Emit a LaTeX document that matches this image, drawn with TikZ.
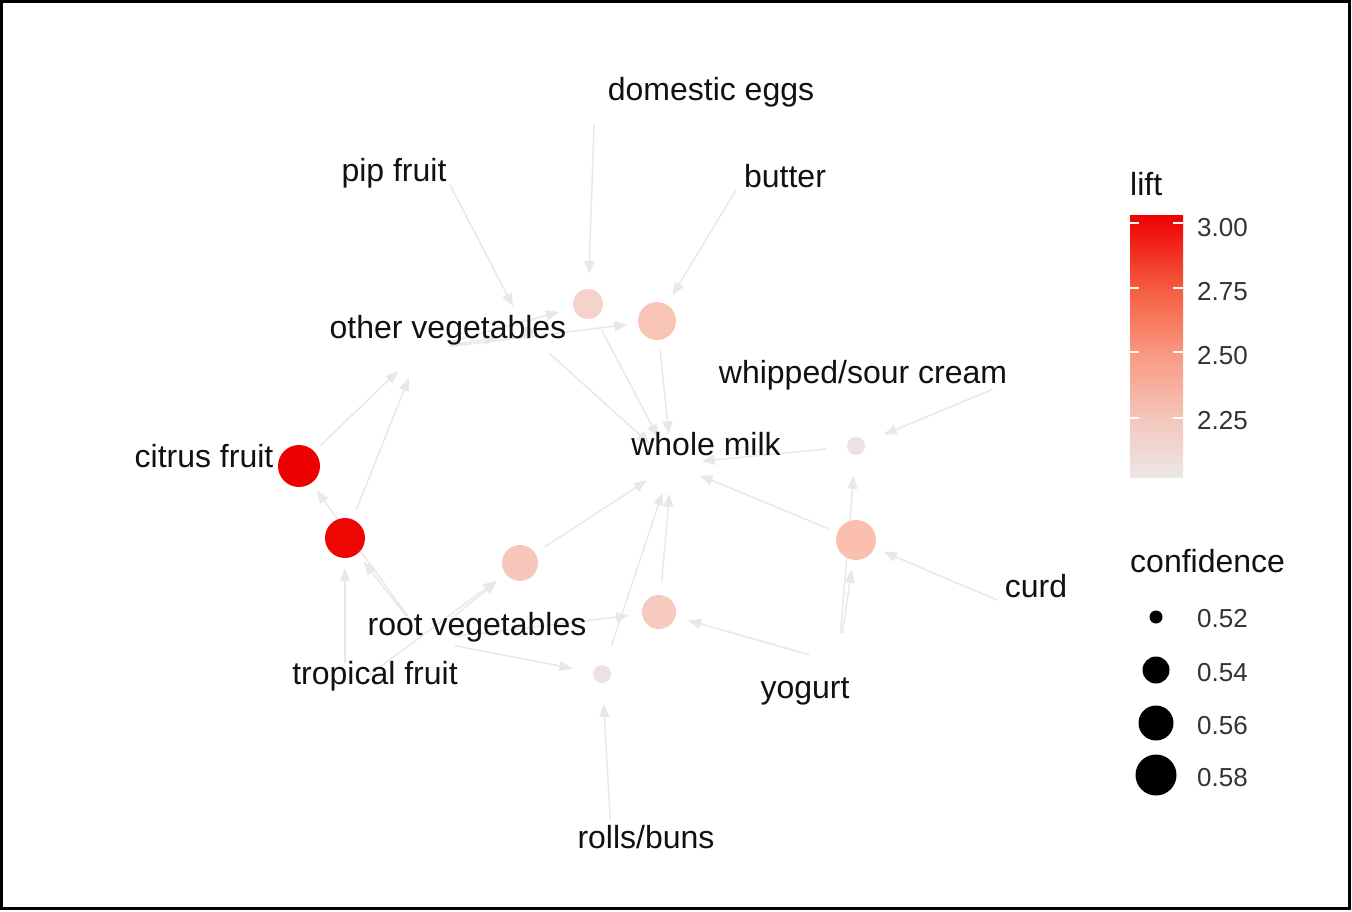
\documentclass[tikz,border=0pt]{standalone}
\usepackage{fontspec}
\setmainfont{Liberation Sans}
\usetikzlibrary{arrows.meta}
\pgfdeclarelayer{bg}
\pgfsetlayers{bg,main}
\definecolor{edgec}{HTML}{E8E8E8}
\definecolor{liftA}{HTML}{EE0000}
\definecolor{liftB}{HTML}{EE0600}
\definecolor{liftC}{HTML}{FBBFB0}
\definecolor{liftD}{HTML}{F9C3B6}
\definecolor{liftE}{HTML}{F8C7BB}
\definecolor{liftF}{HTML}{F7CABF}
\definecolor{liftG}{HTML}{F3D3CB}
\definecolor{liftH}{HTML}{EBE3E2}
\definecolor{liftI}{HTML}{ECE6E5}
\definecolor{gs1}{HTML}{EE0000}
\definecolor{gs2}{HTML}{F55C3F}
\definecolor{gs3}{HTML}{F99880}
\definecolor{gs4}{HTML}{F4C6BB}
\definecolor{gs5}{HTML}{EBE7E7}
\definecolor{legtext}{HTML}{333333}
\definecolor{labtext}{HTML}{111111}
\begin{document}
\begin{tikzpicture}[x=1pt,y=-1pt,
  lbl/.style={font=\fontsize{32}{38}\selectfont, text=labtext, inner sep=0pt, anchor=base},
  rulept/.style={circle, inner sep=0pt, minimum size=#1, draw=none},
  edgeln/.style={draw=edgec, line width=1.5pt, -{Triangle[length=13pt,width=10pt]}, shorten <=30pt, shorten >=30pt},
  legtitle/.style={font=\fontsize{32}{38}\selectfont, text=labtext, inner sep=0pt, anchor=base west},
  legtxt/.style={font=\fontsize{26}{30}\selectfont, text=legtext, inner sep=0pt, anchor=base west},
  sizedot/.style={circle, fill=black, inner sep=0pt, minimum size=#1},
  tickw/.style={draw=white, line width=1.5pt}]
\useasboundingbox (0,0) rectangle (1352,911);

% item vertices (invisible)
\coordinate (wm) at (672,464);
\coordinate (ov) at (420,350);
\coordinate (rv) at (425,640);
\coordinate (tf) at (345,693);
\coordinate (rb) at (612,850);
\coordinate (yo) at (838,663);
\coordinate (cu) at (1025,612);
\coordinate (ws) at (1020,378);
\coordinate (bu) at (751,165);
\coordinate (de) at (595,95);
\coordinate (pf) at (436,158);

% rule vertices
\node[rulept=30pt, fill=liftG] (r1) at (588,304) {};
\node[rulept=38pt, fill=liftD] (r2) at (657,321) {};
\node[rulept=42pt, fill=liftA] (r3) at (299,466) {};
\node[rulept=40pt, fill=liftB] (r4) at (345,538) {};
\node[rulept=36pt, fill=liftE] (r5) at (520,563) {};
\node[rulept=18pt, fill=liftH] (r6) at (856,446) {};
\node[rulept=40pt, fill=liftC] (r7) at (856,540) {};
\node[rulept=34pt, fill=liftF] (r8) at (659,612) {};
\node[rulept=18pt, fill=liftH] (r9) at (602,674) {};
\node[rulept=12pt, fill=liftI] (r10) at (527,333) {};

\begin{pgfonlayer}{bg}
\fill[white] (0,0) rectangle (1352,911);
\draw[edgeln] (de) -- (r1.center);
\draw[edgeln] (ov) -- (r1.center);
\draw[edgeln] (r1.center) -- (wm);
\draw[edgeln] (bu) -- (r2.center);
\draw[edgeln] (ov) -- (r2.center);
\draw[edgeln] (r2.center) -- (wm);
\draw[edgeln] (pf) -- (r10.center);
\draw[edgeln] (ov) -- (r10.center);
\draw[edgeln] (r10.center) -- (wm);
\draw[edgeln] (r3.center) -- (ov);
\draw[edgeln] (rv) -- (r3.center);
\draw[edgeln] (r4.center) -- (ov);
\draw[edgeln] (rv) -- (r4.center);
\draw[edgeln] (tf) -- (r4.center);
\draw[edgeln] (tf) -- (r5.center);
\draw[edgeln] (rv) -- (r5.center);
\draw[edgeln] (r5.center) -- (wm);
\draw[edgeln] (rv) -- (r8.center);
\draw[edgeln] (yo) -- (r8.center);
\draw[edgeln] (r8.center) -- (wm);
\draw[edgeln] (rv) -- (r9.center);
\draw[edgeln] (rb) -- (r9.center);
\draw[edgeln] (r9.center) -- (wm);
\draw[edgeln] (yo) -- (r7.center);
\draw[edgeln] (cu) -- (r7.center);
\draw[edgeln] (r7.center) -- (wm);
\draw[edgeln] (yo) -- (r6.center);
\draw[edgeln] (ws) -- (r6.center);
\draw[edgeln] (r6.center) -- (wm);
\end{pgfonlayer}

% item labels
\node[lbl] (tde) at (711,100) {domestic eggs};
\node[lbl] (tpf) at (394,181) {pip fruit};
\node[lbl] (tbu) at (785,187) {butter};
\node[lbl] (tov) at (448,338) {other vegetables};
\node[lbl] (tws) at (863,383) {whipped/sour cream};
\node[lbl] (twm) at (706,455) {whole milk};
\node[lbl] (tcf) at (204,467) {citrus fruit};
\node[lbl] (tcu) at (1036,597) {curd};
\node[lbl] (trv) at (477,635) {root vegetables};
\node[lbl] (ttf) at (375,684) {tropical fruit};
\node[lbl] (tyo) at (805,698) {yogurt};
\node[lbl] (trb) at (646,848) {rolls/buns};

% lift legend
\node[legtitle] (lifttitle) at (1130,195) {lift};
\shade[top color=gs1, bottom color=gs2] (1130,215) rectangle (1183,289);
\shade[top color=gs2, bottom color=gs3] (1130,288) rectangle (1183,353);
\shade[top color=gs3, bottom color=gs4] (1130,352) rectangle (1183,419);
\shade[top color=gs4, bottom color=gs5] (1130,418) rectangle (1183,477);
\foreach \ty in {223,288,352,418} {
  \draw[tickw] (1130,\ty) -- (1139,\ty);
  \draw[tickw] (1173,\ty) -- (1183,\ty);
}
\node[legtxt] (l300) at (1197,236) {3.00};
\node[legtxt] (l275) at (1197,300) {2.75};
\node[legtxt] (l250) at (1197,364) {2.50};
\node[legtxt] (l225) at (1197,429) {2.25};

% confidence legend
\node[legtitle] (conftitle) at (1130,572) {confidence};
\node[sizedot=13pt] (d1) at (1156,617) {};
\node[sizedot=27pt] (d2) at (1156,670) {};
\node[sizedot=35pt] (d3) at (1156,723) {};
\node[sizedot=41pt] (d4) at (1156,775) {};
\node[legtxt] (c052) at (1197,627) {0.52};
\node[legtxt] (c054) at (1197,681) {0.54};
\node[legtxt] (c056) at (1197,734) {0.56};
\node[legtxt] (c058) at (1197,786) {0.58};

% frame
\draw[black, line width=3pt] (1.5,1.5) rectangle (1349.5,908.5);
\end{tikzpicture}
\end{document}
